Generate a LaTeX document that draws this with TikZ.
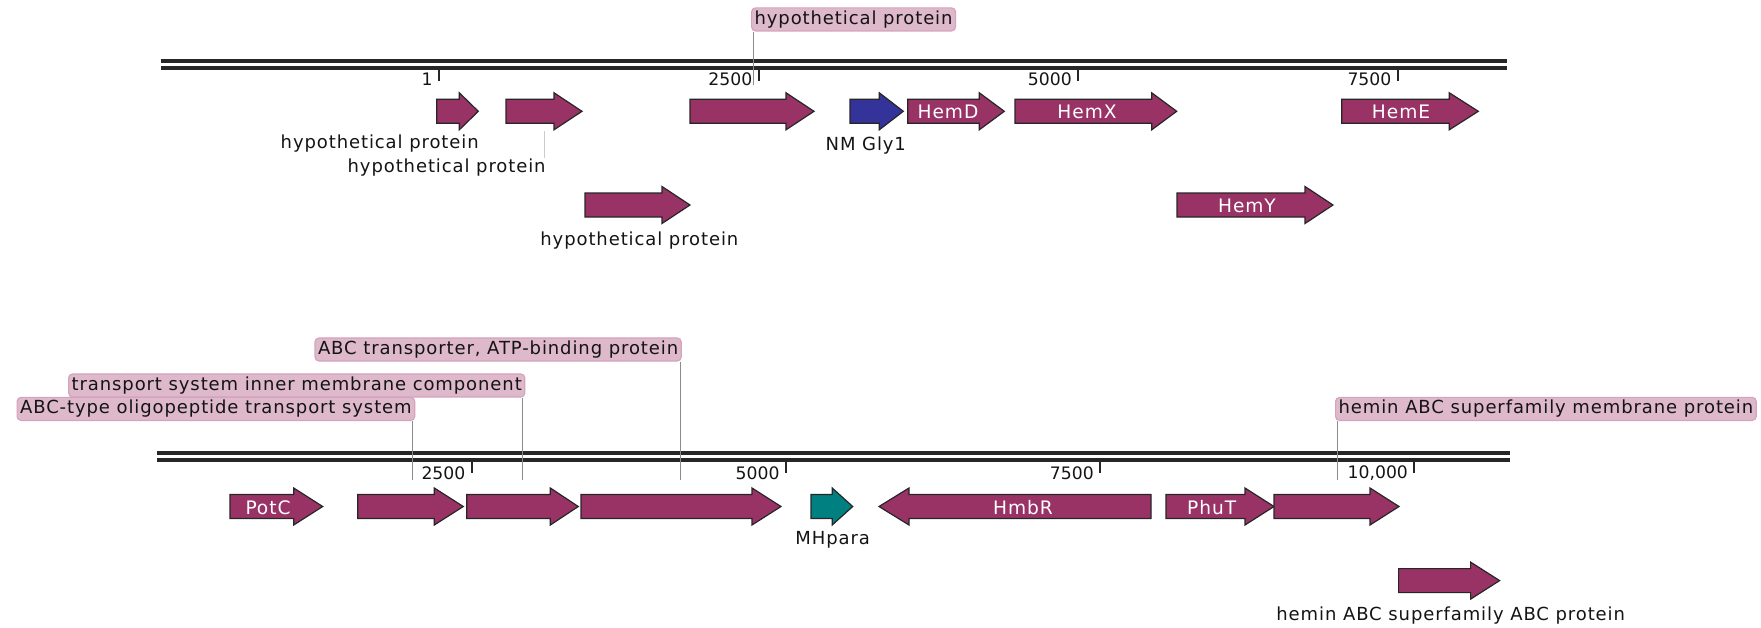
\documentclass[tikz,border=0pt]{standalone}
\usepackage{fontspec}
\setmainfont{DejaVu Sans}[LetterSpace=5]
\newfontfamily\numfont{DejaVu Sans}
\definecolor{genered}{RGB}{153,51,102}
\definecolor{geneblue}{RGB}{51,51,153}
\definecolor{geneteal}{RGB}{0,128,128}
\definecolor{annfill}{RGB}{222,185,203}
\definecolor{anndraw}{RGB}{214,163,188}

\begin{document}
\begin{tikzpicture}
[x=0.5pt,y=-0.5pt,
 every node/.style={font=\fontsize{9}{10}\selectfont,text=black!92,inner sep=0pt},
 track/.style={line width=2pt,black!85},
 tickmark/.style={line width=1pt,black!85},
 ticklabel/.style={anchor=east,font=\fontsize{8.6}{10}\numfont},
 gene/.style={draw=black!85,line width=0.6pt,line join=miter},
 genename/.style={text=white,font=\fontsize{9.3}{10}\selectfont},
 annbox/.style={fill=annfill,draw=anndraw,line width=0.6pt,rounded corners=2pt,inner xsep=1.5pt,inner ysep=1.4pt},
 leader/.style={black!45,line width=0.5pt}]
\useasboundingbox (0,0) rectangle (1761,627);

% tracks
\foreach \xa/\xb/\ya in {160.7/1506.7/61.3, 160.7/1506.7/68, 157/1510/452.8, 157/1510/459.8}
\draw[track] (\xa,\ya) -- (\xb,\ya);

% ruler
\foreach \x/\t in {439/1,758.6/2500,1078.1/5000,1397.7/7500}
{\draw[tickmark] (\x,70) -- (\x,80.7);
 \node[ticklabel] at (\x-6,79.5) {\t};}
\foreach \x/\t in {471.7/2500,785.9/5000,1100.1/7500,1414.3/{10,000}}
{\draw[tickmark] (\x,461.7) -- (\x,473.3);
 \node[ticklabel] at (\x-6,473.5) {\t};}

% genes, left to right
\foreach \xa/\xb/\yc/\hl/\col in {436.7/478.3/111.3/19/genered, 506/582/111.3/28/genered,
  690/814/111.3/28/genered, 850/903.3/111.3/24/geneblue, 907.7/1004.3/111.3/25/genered,
  1015/1176.7/111.3/25/genered, 1341.7/1478.3/111.3/29/genered,
  585/690/205/28/genered, 1177/1333/205/28/genered,
  230/322.7/506.5/29/genered, 357.7/463.3/506.5/29/genered, 466.7/578.3/506.5/28/genered,
  581/781/506.5/29/genered, 811/852.7/506.5/20.5/geneteal, 1166/1274/506.5/29/genered,
  1274/1399/506.5/29/genered, 1398.6/1499.6/580.6/29/genered}
\draw[gene,fill=\col] (\xa,\yc-12) -- (\xb-\hl,\yc-12) -- (\xb-\hl,\yc-18.5) -- (\xb,\yc)
  -- (\xb-\hl,\yc+18.5) -- (\xb-\hl,\yc+12) -- (\xa,\yc+12) -- cycle;
\draw[gene,fill=genered] (1151,494.5) -- (909,494.5) -- (909,488) -- (879,506.5)
  -- (909,525) -- (909,518.5) -- (1151,518.5) -- cycle;

\node[genename] (hemd) at (948,112) {HemD};
\node[genename] (hemx) at (1087,112) {HemX};
\node[genename] (heme) at (1401,112) {HemE};
\node[genename] (hemy) at (1247,206) {HemY};
\node[genename] (potc) at (268,507.5) {PotC};
\node[genename] (hmbr) at (1023,507.5) {HmbR};
\node[genename] (phut) at (1211.7,507.5) {PhuT};

% plain labels
\node (hyp1) at (379.7,144) {hypothetical protein};
\node[anchor=east] (hyp2) at (546,167.5) {hypothetical protein};
\node (nmgly) at (865.8,145.5) {NM Gly1};
\node (hyp3) at (639.4,240.5) {hypothetical protein};
\node (mhpara) at (832.7,539.5) {MHpara};
\node (heminabc) at (1450.7,616) {hemin ABC superfamily ABC protein};
\coordinate (a2foot) at (544,131);
\draw[black!20,line width=0.5pt] (a2foot) -- (a2foot |- hyp2.north);

% annotations
\coordinate (p1) at (753,85);
\coordinate (p2) at (412,480);
\coordinate (p3) at (522.3,480);
\coordinate (p4) at (680,480);
\coordinate (p5) at (1337.7,480);
\node[annbox,anchor=south west] (hyptop) at (751,31.5) {hypothetical protein};
\node[annbox,anchor=south east] (oligo) at (415.3,421) {ABC-type oligopeptide transport system};
\node[annbox,anchor=south east] (inner) at (525.4,397.6) {transport system inner membrane component};
\node[annbox,anchor=south east] (atpbind) at (681.8,361.6) {ABC transporter, ATP-binding protein};
\node[annbox,anchor=south west] (heminmem) at (1335,421) {hemin ABC superfamily membrane protein};
\draw[leader] (hyptop.south -| p1) -- (p1);
\draw[leader] (oligo.south -| p2) -- (p2);
\draw[leader] (inner.south -| p3) -- (p3);
\draw[leader] (atpbind.south -| p4) -- (p4);
\draw[leader] (heminmem.south -| p5) -- (p5);
\end{tikzpicture}
\end{document}
